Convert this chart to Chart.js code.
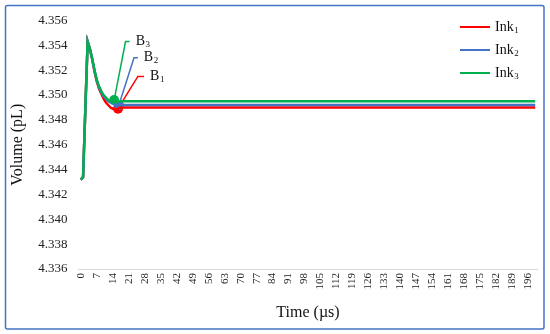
<!DOCTYPE html>
<html lang="en">
<head>
<meta charset="UTF-8">
<title>Volume (pL) vs Time</title>
<script src="https://cdn.jsdelivr.net/npm/chart.js@4.4.0/dist/chart.umd.min.js"></script>
<style>
    html, body {
        margin: 0;
        padding: 0;
        background: #ffffff;
    }
    #wrap {
        position: relative;
        width: 550px;
        height: 334px;
    }
</style>
</head>
<body>
<div id="wrap"><canvas id="volumeChart"></canvas></div>
<script>
// time points (µs); the curves are flat after ~18 µs, so the last point closes the line
const timeUs = [0, 1, 2, 3, 4, 5, 6, 7, 8, 9, 10, 11, 12, 13, 14, 15, 16, 17, 18, 199];

const ink1 = [4.3432, 4.3434, 4.3489, 4.3543, 4.3537, 4.3529, 4.3519, 4.3511, 4.3505, 4.3501,
              4.3497, 4.3494, 4.3492, 4.3490, 4.3489, 4.34885, 4.34885, 4.3490, 4.3490, 4.3490];
const ink2 = [4.3432, 4.3434, 4.3489, 4.3543, 4.3537, 4.3529, 4.3520, 4.3512, 4.3506, 4.3502,
              4.3499, 4.3497, 4.3495, 4.3494, 4.3493, 4.3492, 4.3492, 4.3492, 4.3492, 4.3492];
const ink3 = [4.3432, 4.3434, 4.3489, 4.3543, 4.3537, 4.3529, 4.3520, 4.3512, 4.3507, 4.3503,
              4.3500, 4.3498, 4.3496, 4.3495, 4.3494, 4.3495, 4.3495, 4.3495, 4.3495, 4.3495];

const seriesNames = ['Ink₁', 'Ink₂', 'Ink₃'];
const seriesColors = ['#ff0000', '#4472c4', '#00b050'];

// B1..B3 callouts: marker point, elbow of the leader, end of the leader
const calloutNames = ['B₁', 'B₂', 'B₃'];
const markerT = [16.3, 16.7, 14.6];
const markerV = [4.3489, 4.3492, 4.3496];
const elbowT = [25.0, 23.3, 19.6];
const elbowV = [4.3515, 4.3530, 4.3543];
const endT = [27.7, 25.0, 21.4];

// y ticks
const yMin = 4.336;
const yMax = 4.356;
const yStep = 0.002;
// x ticks every 7 µs from 0 to 196
const xStep = 7;

const FONT = "'Liberation Serif', 'Times New Roman', serif";
Chart.defaults.font.family = FONT;
Chart.defaults.color = '#222';

function toPoints(xs, ys) {
    return xs.map((t, i) => ({ x: t, y: ys[i] }));
}

const series = [ink1, ink2, ink3];
const datasets = [];

// green on top, so push in reverse order (dataset 0 is drawn last)
[2, 1, 0].forEach(i => {
    datasets.push({
        label: seriesNames[i],
        data: toPoints(timeUs, series[i]),
        borderColor: seriesColors[i],
        backgroundColor: seriesColors[i],
        borderWidth: 2.5,
        pointRadius: 0,
        tension: 0
    });
});

[2, 1, 0].forEach(i => {
    datasets.push({
        label: calloutNames[i] + ' leader',
        data: [
            { x: markerT[i], y: markerV[i] },
            { x: elbowT[i], y: elbowV[i] },
            { x: endT[i], y: elbowV[i] }
        ],
        borderColor: seriesColors[i],
        borderWidth: 1.5,
        pointRadius: 0,
        tension: 0
    });
    datasets.push({
        label: calloutNames[i],
        data: [{ x: markerT[i], y: markerV[i] }],
        showLine: false,
        pointRadius: 5,
        pointBackgroundColor: seriesColors[i],
        pointBorderColor: seriesColors[i],
        pointBorderWidth: 0
    });
});

const subDigits = { '₁': '1', '₂': '2', '₃': '3' };

function drawSubText(ctx, text, x, y, size) {
    const base = text.slice(0, -1);
    const sub = subDigits[text.slice(-1)];
    ctx.fillStyle = '#111';
    ctx.textBaseline = 'middle';
    ctx.textAlign = 'left';
    ctx.font = size + 'px ' + FONT;
    ctx.fillText(base, x, y);
    const w = ctx.measureText(base).width;
    ctx.font = Math.round(size * 0.62) + 'px ' + FONT;
    ctx.fillText(sub, x + w + 0.5, y + size * 0.24);
}

const decor = {
    id: 'decor',
    beforeDraw(chart) {
        const ctx = chart.ctx;
        ctx.save();
        ctx.fillStyle = '#ffffff';
        ctx.fillRect(0, 0, chart.width, chart.height);
        ctx.restore();
    },
    afterDraw(chart) {
        const { ctx, scales } = chart;
        ctx.save();
        // outer frame
        ctx.strokeStyle = '#4472c4';
        ctx.lineWidth = 1.5;
        ctx.beginPath();
        ctx.roundRect(5.5, 5.5, 538.5, 323.5, 2);
        ctx.stroke();

        // legend, top right inside plot
        const legendY = [27, 50, 73];
        seriesNames.forEach((name, i) => {
            ctx.strokeStyle = seriesColors[i];
            ctx.lineWidth = 2;
            ctx.beginPath();
            ctx.moveTo(460, legendY[i]);
            ctx.lineTo(490, legendY[i]);
            ctx.stroke();
            drawSubText(ctx, name, 495, legendY[i], 14);
        });

        // callout labels at the end of each leader
        calloutNames.forEach((name, i) => {
            const px = scales.x.getPixelForValue(endT[i]) + 6;
            const py = scales.y.getPixelForValue(elbowV[i]);
            drawSubText(ctx, name, px, py, 14);
        });
        ctx.restore();
    }
};

new Chart(document.getElementById('volumeChart'), {
    type: 'line',
    data: { datasets: datasets },
    plugins: [decor],
    options: {
        responsive: true,
        maintainAspectRatio: false,
        animation: false,
        layout: { padding: { left: 0, right: 12.5, top: 20.5, bottom: 12 } },
        plugins: {
            legend: { display: false },
            tooltip: { enabled: false }
        },
        scales: {
            x: {
                type: 'linear',
                min: -1,
                max: 200,
                afterFit(scale) { scale.height = 53; },
                grid: { display: false, drawTicks: false },
                border: { display: true, color: '#d9d9d9', width: 1 },
                ticks: {
                    stepSize: xStep,
                    autoSkip: false,
                    includeBounds: false,
                    minRotation: 90,
                    maxRotation: 90,
                    padding: 4,
                    font: { size: 11 },
                    callback: v => (v >= 0 && v % xStep === 0) ? String(v) : ''
                },
                title: {
                    display: true,
                    text: 'Time (µs)',
                    font: { size: 16 },
                    color: '#111',
                    padding: { top: 0, bottom: 0 }
                }
            },
            y: {
                min: yMin,
                max: yMax,
                afterFit(scale) { scale.width = 78.5; },
                grid: { display: false, drawTicks: false },
                border: { display: false },
                ticks: {
                    stepSize: yStep,
                    padding: 11,
                    font: { size: 13 },
                    callback: v => v.toFixed(3)
                },
                title: {
                    display: true,
                    text: 'Volume (pL)',
                    font: { size: 16 },
                    color: '#111',
                    padding: { top: 8, bottom: 0 }
                }
            }
        }
    }
});
</script>
</body>
</html>
